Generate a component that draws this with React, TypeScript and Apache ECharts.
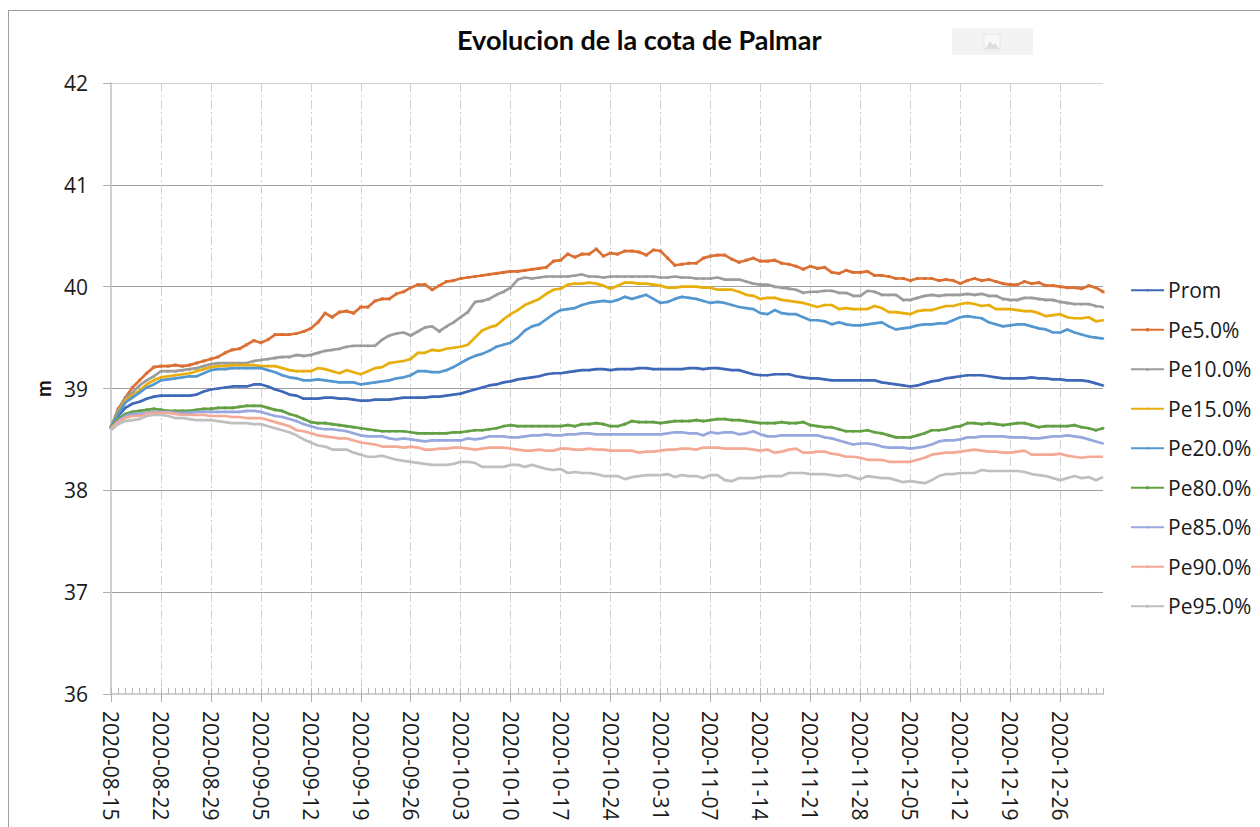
import React, { useEffect, useRef } from "react";
import * as echarts from "echarts";

const seriesNames = ["Prom", "Pe5.0%", "Pe10.0%", "Pe15.0%", "Pe20.0%", "Pe80.0%", "Pe85.0%", "Pe90.0%", "Pe95.0%"];
const seriesColors = ["#3F68B8", "#DC7034", "#9C9C9C", "#E8AE0C", "#5597CF", "#62A043", "#97A8DE", "#F4A995", "#BFBFBF"];
const seriesSymbols = ["diamond", "rect", "triangle", "diamond", "diamond", "circle", "diamond", "none", "none"];

const firstDay = Date.UTC(2020, 7, 15);
const dayCount = 140;
const categories: string[] = [];
for (let d = 0; d < dayCount; d++) categories.push(new Date(firstDay + d * 86400000).toISOString().slice(0, 10));

const prom = [38.62,38.73,38.81,38.85,38.87,38.90,38.92,38.93,38.93,38.93,38.93,38.93,38.94,38.97,38.99,39.00,39.01,39.02,39.02,39.02,39.04,39.04,39.02,38.99,38.97,38.94,38.93,38.90,38.90,38.90,38.91,38.91,38.90,38.90,38.89,38.88,38.88,38.89,38.89,38.89,38.90,38.91,38.91,38.91,38.91,38.92,38.92,38.93,38.94,38.95,38.97,38.99,39.01,39.03,39.04,39.06,39.07,39.09,39.10,39.11,39.12,39.14,39.15,39.15,39.16,39.17,39.18,39.18,39.19,39.19,39.18,39.19,39.19,39.19,39.20,39.20,39.19,39.19,39.19,39.19,39.19,39.20,39.20,39.19,39.20,39.20,39.19,39.18,39.18,39.16,39.14,39.13,39.13,39.14,39.14,39.14,39.12,39.11,39.10,39.10,39.09,39.08,39.08,39.08,39.08,39.08,39.08,39.08,39.06,39.05,39.04,39.03,39.02,39.03,39.05,39.07,39.08,39.10,39.11,39.12,39.13,39.13,39.13,39.12,39.11,39.10,39.10,39.10,39.10,39.11,39.10,39.10,39.09,39.09,39.08,39.08,39.08,39.07,39.05,39.03];
const pe5 = [38.62,38.80,38.91,39.01,39.08,39.15,39.21,39.22,39.22,39.23,39.22,39.23,39.25,39.27,39.29,39.31,39.35,39.38,39.39,39.43,39.47,39.45,39.48,39.53,39.53,39.53,39.54,39.56,39.59,39.65,39.74,39.70,39.75,39.76,39.74,39.80,39.80,39.86,39.88,39.88,39.93,39.95,39.99,40.02,40.02,39.97,40.01,40.05,40.06,40.08,40.09,40.10,40.11,40.12,40.13,40.14,40.15,40.15,40.16,40.17,40.18,40.19,40.25,40.26,40.32,40.29,40.32,40.32,40.37,40.30,40.33,40.32,40.35,40.35,40.34,40.31,40.36,40.35,40.28,40.21,40.22,40.23,40.23,40.28,40.30,40.31,40.31,40.27,40.24,40.26,40.28,40.25,40.25,40.26,40.23,40.22,40.20,40.17,40.20,40.18,40.19,40.14,40.13,40.16,40.14,40.14,40.15,40.11,40.11,40.10,40.08,40.08,40.06,40.08,40.08,40.08,40.06,40.07,40.06,40.03,40.06,40.08,40.06,40.07,40.05,40.03,40.02,40.02,40.05,40.03,40.04,40.01,40.01,40.00,39.99,39.99,39.98,40.01,39.99,39.95];
const pe10 = [38.62,38.78,38.90,38.96,39.03,39.08,39.12,39.17,39.17,39.17,39.18,39.19,39.20,39.22,39.24,39.25,39.25,39.25,39.25,39.25,39.27,39.28,39.29,39.30,39.31,39.31,39.33,39.32,39.33,39.35,39.37,39.38,39.39,39.41,39.42,39.42,39.42,39.42,39.48,39.52,39.54,39.55,39.52,39.56,39.60,39.61,39.56,39.61,39.65,39.70,39.75,39.85,39.86,39.88,39.92,39.95,39.99,40.07,40.09,40.08,40.09,40.10,40.10,40.10,40.10,40.11,40.12,40.10,40.10,40.09,40.10,40.10,40.10,40.10,40.10,40.10,40.10,40.09,40.09,40.10,40.09,40.09,40.08,40.08,40.08,40.09,40.07,40.07,40.07,40.05,40.03,40.02,40.02,40.00,39.99,39.98,39.97,39.94,39.95,39.95,39.96,39.96,39.94,39.94,39.91,39.91,39.96,39.95,39.92,39.92,39.92,39.87,39.87,39.89,39.91,39.92,39.91,39.92,39.92,39.92,39.93,39.92,39.93,39.91,39.91,39.88,39.87,39.87,39.89,39.89,39.88,39.87,39.87,39.85,39.84,39.83,39.83,39.83,39.81,39.80];
const pe15 = [38.62,38.76,38.88,38.93,38.98,39.04,39.08,39.11,39.12,39.13,39.14,39.15,39.17,39.19,39.21,39.22,39.22,39.23,39.23,39.23,39.23,39.22,39.22,39.22,39.20,39.18,39.17,39.17,39.17,39.20,39.19,39.17,39.15,39.18,39.16,39.14,39.17,39.20,39.21,39.25,39.26,39.27,39.29,39.35,39.35,39.38,39.37,39.39,39.40,39.41,39.43,39.50,39.57,39.60,39.62,39.68,39.73,39.77,39.82,39.85,39.88,39.93,39.97,39.98,40.02,40.03,40.03,40.04,40.03,40.01,39.98,40.01,40.04,40.04,40.03,40.03,40.02,40.01,39.99,39.99,40.00,40.00,40.00,39.99,39.99,39.97,39.97,39.97,39.95,39.92,39.91,39.88,39.89,39.89,39.87,39.86,39.85,39.84,39.82,39.80,39.82,39.82,39.78,39.79,39.78,39.78,39.78,39.81,39.79,39.75,39.75,39.74,39.73,39.76,39.77,39.77,39.79,39.81,39.81,39.83,39.84,39.83,39.81,39.82,39.78,39.78,39.78,39.77,39.76,39.76,39.74,39.71,39.72,39.73,39.70,39.69,39.69,39.70,39.66,39.67];
const pe20 = [38.62,38.75,38.86,38.91,38.96,39.01,39.04,39.08,39.09,39.10,39.11,39.12,39.12,39.15,39.18,39.19,39.19,39.20,39.20,39.20,39.20,39.20,39.18,39.16,39.13,39.11,39.10,39.08,39.08,39.09,39.08,39.07,39.06,39.06,39.06,39.04,39.05,39.06,39.07,39.08,39.10,39.11,39.13,39.17,39.17,39.16,39.16,39.18,39.21,39.25,39.29,39.32,39.34,39.37,39.41,39.43,39.45,39.50,39.57,39.61,39.63,39.68,39.73,39.77,39.78,39.79,39.82,39.84,39.85,39.86,39.85,39.87,39.90,39.88,39.90,39.92,39.88,39.84,39.85,39.88,39.90,39.89,39.88,39.86,39.84,39.85,39.84,39.82,39.80,39.79,39.78,39.74,39.73,39.77,39.74,39.73,39.73,39.70,39.67,39.67,39.66,39.63,39.65,39.63,39.62,39.62,39.63,39.64,39.65,39.61,39.58,39.59,39.60,39.62,39.63,39.63,39.64,39.64,39.67,39.70,39.71,39.70,39.69,39.65,39.63,39.61,39.62,39.63,39.63,39.61,39.59,39.58,39.55,39.55,39.58,39.55,39.53,39.51,39.50,39.49];
const pe80 = [38.62,38.70,38.75,38.77,38.78,38.79,38.80,38.79,38.78,38.78,38.78,38.78,38.79,38.80,38.80,38.81,38.81,38.81,38.82,38.83,38.83,38.83,38.81,38.79,38.78,38.75,38.73,38.70,38.67,38.66,38.66,38.65,38.64,38.63,38.62,38.61,38.60,38.59,38.58,38.58,38.58,38.58,38.57,38.56,38.56,38.56,38.56,38.56,38.57,38.57,38.58,38.59,38.59,38.60,38.61,38.63,38.64,38.63,38.63,38.63,38.63,38.63,38.63,38.63,38.64,38.63,38.65,38.65,38.66,38.65,38.63,38.63,38.65,38.68,38.67,38.67,38.67,38.66,38.67,38.68,38.68,38.68,38.69,38.68,38.69,38.70,38.70,38.69,38.69,38.68,38.67,38.66,38.66,38.66,38.67,38.66,38.66,38.67,38.64,38.63,38.62,38.62,38.60,38.58,38.58,38.58,38.59,38.57,38.56,38.54,38.52,38.52,38.52,38.54,38.56,38.59,38.59,38.60,38.62,38.63,38.66,38.66,38.65,38.66,38.65,38.64,38.65,38.66,38.66,38.64,38.62,38.63,38.63,38.63,38.63,38.64,38.62,38.61,38.59,38.61];
const pe85 = [38.61,38.68,38.73,38.75,38.75,38.76,38.77,38.77,38.77,38.76,38.76,38.76,38.77,38.77,38.77,38.77,38.77,38.77,38.77,38.78,38.78,38.77,38.75,38.73,38.72,38.70,38.68,38.65,38.63,38.61,38.60,38.60,38.59,38.58,38.56,38.54,38.53,38.53,38.53,38.51,38.50,38.51,38.50,38.49,38.48,38.49,38.49,38.49,38.49,38.49,38.51,38.50,38.51,38.53,38.53,38.53,38.52,38.52,38.53,38.54,38.54,38.55,38.54,38.54,38.55,38.55,38.56,38.56,38.55,38.55,38.55,38.55,38.55,38.55,38.55,38.55,38.55,38.55,38.56,38.57,38.57,38.56,38.56,38.54,38.57,38.56,38.57,38.57,38.55,38.56,38.58,38.55,38.53,38.53,38.54,38.54,38.54,38.54,38.54,38.54,38.52,38.51,38.49,38.47,38.45,38.46,38.46,38.45,38.43,38.42,38.42,38.42,38.41,38.42,38.43,38.45,38.48,38.49,38.49,38.50,38.52,38.52,38.53,38.53,38.53,38.53,38.52,38.52,38.52,38.51,38.51,38.52,38.53,38.53,38.54,38.53,38.52,38.50,38.48,38.46];
const pe90 = [38.61,38.67,38.71,38.73,38.73,38.75,38.76,38.76,38.76,38.75,38.74,38.74,38.74,38.74,38.73,38.73,38.73,38.72,38.72,38.71,38.71,38.71,38.69,38.67,38.65,38.63,38.59,38.58,38.56,38.54,38.53,38.52,38.51,38.51,38.49,38.47,38.46,38.45,38.43,38.43,38.43,38.42,38.43,38.42,38.40,38.40,38.41,38.41,38.42,38.42,38.41,38.40,38.41,38.42,38.42,38.42,38.41,38.40,38.39,38.39,38.40,38.39,38.39,38.41,38.41,38.40,38.40,38.41,38.40,38.40,38.39,38.39,38.39,38.39,38.37,38.38,38.38,38.39,38.40,38.40,38.41,38.41,38.40,38.42,38.42,38.42,38.41,38.41,38.41,38.41,38.40,38.39,38.40,38.37,38.38,38.40,38.41,38.37,38.37,38.38,38.38,38.36,38.35,38.33,38.33,38.32,38.30,38.30,38.30,38.28,38.28,38.28,38.28,38.30,38.32,38.35,38.36,38.37,38.37,38.38,38.39,38.40,38.39,38.38,38.38,38.37,38.37,38.38,38.39,38.35,38.35,38.35,38.35,38.36,38.34,38.33,38.32,38.33,38.33,38.33];
const pe95 = [38.59,38.65,38.68,38.69,38.70,38.73,38.74,38.74,38.73,38.71,38.71,38.70,38.69,38.69,38.69,38.68,38.67,38.66,38.66,38.66,38.65,38.65,38.63,38.61,38.59,38.57,38.54,38.50,38.47,38.44,38.43,38.40,38.40,38.40,38.37,38.35,38.33,38.33,38.34,38.32,38.30,38.29,38.28,38.27,38.26,38.25,38.25,38.25,38.26,38.28,38.28,38.27,38.23,38.23,38.23,38.23,38.25,38.25,38.23,38.25,38.23,38.21,38.20,38.21,38.17,38.18,38.17,38.17,38.16,38.14,38.14,38.14,38.11,38.13,38.14,38.15,38.15,38.15,38.16,38.13,38.15,38.14,38.14,38.12,38.15,38.15,38.10,38.09,38.12,38.12,38.12,38.13,38.14,38.14,38.14,38.17,38.17,38.17,38.16,38.16,38.16,38.15,38.14,38.15,38.13,38.11,38.14,38.13,38.12,38.12,38.10,38.08,38.09,38.08,38.07,38.10,38.14,38.16,38.16,38.17,38.17,38.17,38.20,38.19,38.19,38.19,38.19,38.19,38.18,38.16,38.15,38.14,38.12,38.10,38.12,38.14,38.12,38.13,38.10,38.13];
const allValues = [prom, pe5, pe10, pe15, pe20, pe80, pe85, pe90, pe95];

const yTicks = { min: 36, max: 42, step: 1 };
const chartTitle = "Evolucion de la cota de Palmar";
const yName = "m";
const FONT = "Open Sans";

export default function App() {
  const ref = useRef<HTMLDivElement>(null);
  useEffect(() => {
    const chart = echarts.init(ref.current!, undefined, { renderer: "svg" });
    chart.setOption({
      animation: false,
      backgroundColor: "#ffffff",
      title: {
        text: chartTitle,
        left: 452,
        top: 21,
        textStyle: { fontFamily: "Lato", fontWeight: "bold", fontSize: 27, color: "#0a0a0a" },
      },
      grid: { left: 111, top: 83, right: 157, bottom: 133 },
      legend: {
        orient: "vertical",
        left: 1130,
        top: 276,
        padding: 0,
        itemWidth: 33,
        itemHeight: 4,
        itemGap: 11,
        data: seriesNames,
        textStyle: { fontFamily: FONT, fontSize: 21, color: "#1a1a1a", padding: [0, 0, 0, -1], lineHeight: 28.5 },
      },
      xAxis: [
        {
          type: "category",
          data: categories,
          boundaryGap: false,
          axisLine: { show: true, lineStyle: { color: "#d0d0d0", width: 2 } },
          axisTick: { show: true, interval: 6, length: 8, lineStyle: { color: "#b0b0b0", width: 1 } },
          axisLabel: {
            interval: 6,
            rotate: -90,
            margin: 17,
            fontFamily: FONT,
            fontSize: 21,
            color: "#1a1a1a",
          },
          splitLine: {
            show: true,
            interval: 6,
            lineStyle: { color: "#d0d0d0", width: 1, type: [9, 3, 2, 3] },
          },
        },
        {
          type: "category",
          data: categories,
          boundaryGap: false,
          position: "bottom",
          axisLine: { show: false },
          axisTick: { show: true, interval: 0, inside: true, length: 6, lineStyle: { color: "#b8b8b8", width: 1 } },
          axisLabel: { show: false },
          splitLine: { show: false },
        },
      ],
      yAxis: {
        type: "value",
        min: yTicks.min,
        max: yTicks.max,
        interval: yTicks.step,
        name: yName,
        nameLocation: "middle",
        nameGap: 58,
        nameRotate: 90,
        nameTextStyle: { fontFamily: "Lato", fontWeight: "bold", fontSize: 20, color: "#111111", padding: [0, 0, 0, 0], verticalAlign: "middle", align: "center", lineHeight: 20 },
        axisLine: { show: true, lineStyle: { color: "#d0d0d0", width: 2 } },
        axisTick: { show: true, length: 8, lineStyle: { color: "#b0b0b0", width: 1 } },
        axisLabel: { margin: 23, fontFamily: FONT, fontSize: 21, color: "#1a1a1a" },
        splitLine: {
          show: true,
          lineStyle: { color: ["#d0d0d0", "#a0a0a0", "#a0a0a0", "#a0a0a0", "#a0a0a0", "#a0a0a0", "#d0d0d0"], width: 1 },
        },
      },
      series: seriesNames.map((name, k) => ({
        name,
        type: "line",
        data: allValues[k],
        xAxisIndex: 0,
        symbol: seriesSymbols[k],
        symbolSize: 3,
        showAllSymbol: true,
        smooth: false,
        lineStyle: { color: seriesColors[k], width: 2.7 },
        itemStyle: { color: seriesColors[k] },
        z: 2 + k,
      })),
      graphic: [
        { type: "line", shape: { x1: 8, y1: 10.5, x2: 1260, y2: 10.5 }, style: { stroke: "#a0a0a0", lineWidth: 1 } },
        { type: "line", shape: { x1: 8.5, y1: 10, x2: 8.5, y2: 827 }, style: { stroke: "#a0a0a0", lineWidth: 1 } },
        { type: "rect", shape: { x: 952, y: 28, width: 81, height: 27 }, style: { fill: "#f3f3f3" } },
        { type: "rect", shape: { x: 984, y: 34, width: 16, height: 16 }, style: { fill: "#f8f8f8", stroke: "#e6e6e6" } },
        { type: "polygon", shape: { points: [[985, 49], [990, 41], [993, 45], [995, 43], [999, 49]] }, style: { fill: "#dedede" } },
      ],
    });
    return () => chart.dispose();
  }, []);
  return <div ref={ref} style={{ position: "fixed", left: 0, top: 0, width: 1260, height: 827 }} />;
}
